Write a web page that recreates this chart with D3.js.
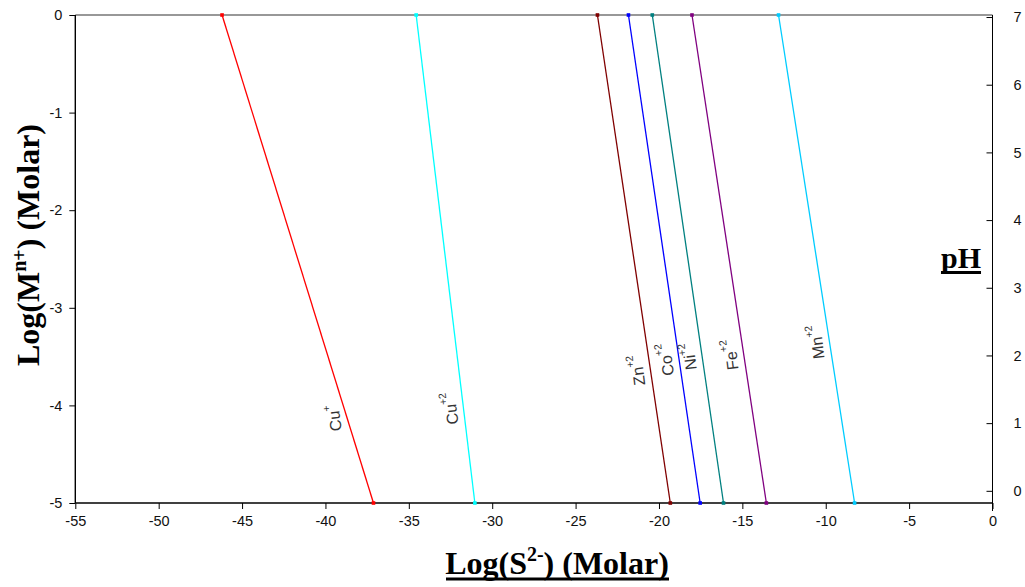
<!DOCTYPE html>
<html><head><meta charset="utf-8">
<script src="https://cdn.jsdelivr.net/npm/d3@7"></script>
<style>body{margin:0;background:#fff;overflow:hidden}svg{display:block}</style>
</head><body>
<svg id="c" width="1025" height="587"></svg>
<script>
// ---- data ----
const ions      = ["Cu", "Cu", "Zn", "Co", "Ni", "Fe", "Mn"];
const charges   = ["+", "+2", "+2", "+2", "+2", "+2", "+2"];
const logM      = [0, -5];                                       // log(M n+) at the two ends
const logSAt0   = [-46.2, -34.56, -23.69, -21.83, -20.4, -18.02, -12.83];
const logSAtM5  = [-37.12, -31.04, -19.32, -17.53, -16.13, -13.56, -8.27];
const labelLogM = [-4.13, -4.03, -3.64, -3.53, -3.5, -3.48, -3.35];
const xTicks    = [-55,-50,-45,-40,-35,-30,-25,-20,-15,-10,-5,0];
const yTicks    = [0,-1,-2,-3,-4,-5];
const pHTicks   = [0,1,2,3,4,5,6,7];
const colors    = ["#FF0000","#00FFFF","#800000","#0000FF","#008080","#800080","#00CCFF"];

const svg = d3.select("#c");
const L = 75.3, R = 992.5, T = 15, B = 503;
const x = d3.scaleLinear().domain([-55,0]).range([L,R]);
const y = d3.scaleLinear().domain([-5,0]).range([B,T]);
const yR = d3.scaleLinear().domain([-0.18,7.03]).range([B,T]);
const fmt = d => String(d);

svg.append("line").attr("x1",L).attr("x2",R).attr("y1",T).attr("y2",T).attr("stroke","#333").attr("stroke-width",1.2);

const tickFont = "Liberation Sans, Arial, sans-serif";
const gx = svg.append("g").attr("transform",`translate(0,${B})`)
  .call(d3.axisBottom(x).tickValues(xTicks).tickSize(6).tickPadding(7).tickFormat(fmt));
const gy = svg.append("g").attr("transform",`translate(${L},0)`)
  .call(d3.axisLeft(y).tickValues(yTicks).tickSize(6).tickPadding(7).tickFormat(fmt));
const gr = svg.append("g").attr("transform",`translate(${R},0)`)
  .call(d3.axisRight(yR).tickValues(pHTicks).tickSize(0).tickPadding(21).tickFormat(fmt));
gr.selectAll(".tick").append("line").attr("x1",-6).attr("x2",0).attr("stroke","#000");
[gx,gy,gr].forEach(g=>{
  g.select(".domain").remove();
  g.selectAll(".tick line").attr("stroke","#000");
  g.selectAll("text").attr("font-family",tickFont).attr("font-size",14.5).attr("fill","#111");
});
svg.append("line").attr("x1",L).attr("x2",L).attr("y1",T).attr("y2",B).attr("stroke","#000").attr("stroke-width",1.4);
svg.append("line").attr("x1",L).attr("x2",R).attr("y1",B).attr("y2",B).attr("stroke","#000").attr("stroke-width",1.4);
svg.append("line").attr("x1",R).attr("x2",R).attr("y1",T).attr("y2",B+8).attr("stroke","#000").attr("stroke-width",1);

// series lines
const line = d3.line().x(d=>x(d[0])).y(d=>y(d[1]));
ions.forEach((ion,i)=>{
  const pts = [[logSAt0[i],logM[0]],[logSAtM5[i],logM[1]]];
  svg.append("path").attr("d",line(pts)).attr("fill","none")
    .attr("stroke",colors[i]).attr("stroke-width",1.3);
  svg.selectAll(null).data(pts).enter().append("rect")
    .attr("x",d=>x(d[0])-1.8).attr("y",d=>y(d[1])-1.8).attr("width",3.6).attr("height",3.6)
    .attr("fill",colors[i]);
  const lm = labelLogM[i];
  const t = (lm-logM[0])/(logM[1]-logM[0]);
  const lx = x(logSAt0[i] + t*(logSAtM5[i]-logSAt0[i])) - 13;
  const ly = y(lm);
  const txt = svg.append("text")
    .attr("transform",`translate(${lx},${ly}) rotate(-97)`)
    .attr("text-anchor","middle").attr("dominant-baseline","central")
    .attr("font-family",tickFont).attr("font-size",16).attr("fill","#333");
  txt.append("tspan").text(ion);
  txt.append("tspan").attr("font-size",10.5).attr("dy",-7).text(charges[i]);
});

// axis titles
const serif = "Liberation Serif, 'Times New Roman', serif";
const xt = svg.append("text").attr("x",557).attr("y",574).attr("text-anchor","middle")
  .attr("font-family",serif).attr("font-weight","bold").attr("font-size",32).attr("fill","#000");
xt.append("tspan").text("Log(S");
xt.append("tspan").attr("font-size",20).attr("dy",-13).text("2-");
xt.append("tspan").attr("dy",13).text(") (Molar)");
svg.append("line").attr("x1",446).attr("x2",669).attr("y1",579).attr("y2",579)
  .attr("stroke","#000").attr("stroke-width",3);

const yt = svg.append("text").attr("transform","translate(39,245) rotate(-90)").attr("text-anchor","middle")
  .attr("font-family",serif).attr("font-weight","bold").attr("font-size",32).attr("fill","#000");
yt.append("tspan").text("Log(M");
yt.append("tspan").attr("font-size",20).attr("dy",-13).text("n+");
yt.append("tspan").attr("dy",13).text(") (Molar)");

const ph = svg.append("text").attr("x",961).attr("y",268).attr("text-anchor","middle")
  .attr("font-family",serif).attr("font-weight","bold").attr("font-size",30).attr("fill","#000").text("pH");
const pb = ph.node().getBBox();
svg.append("rect").attr("x",pb.x).attr("y",271).attr("width",pb.width).attr("height",3).attr("fill","#000");
</script>
</body></html>
